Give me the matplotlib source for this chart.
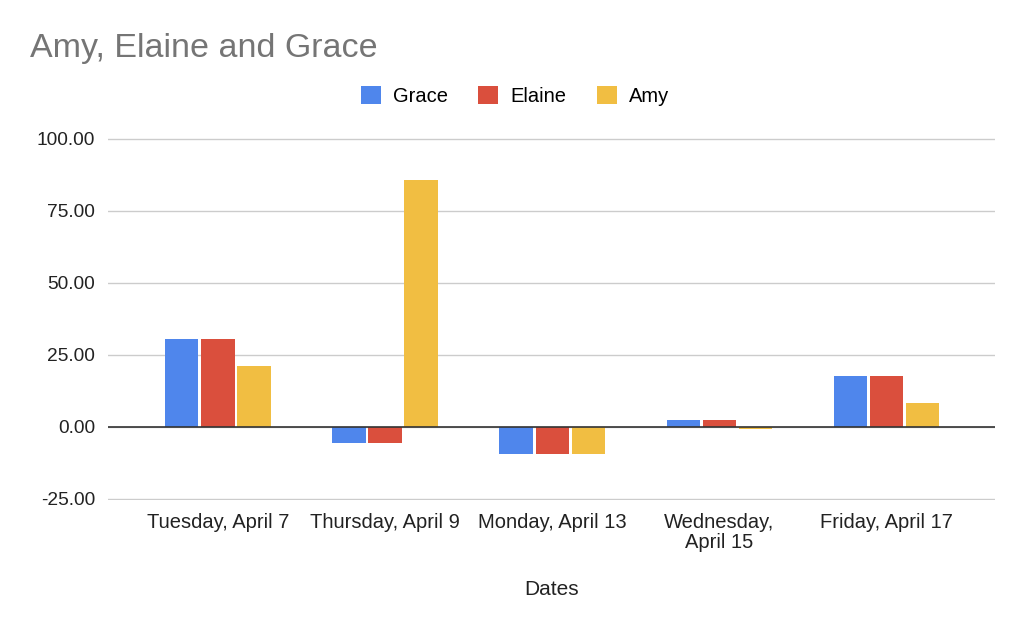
import numpy as np
import matplotlib.pyplot as plt

# ---------------- data ----------------
dates  = ["Tuesday, April 7", "Thursday, April 9", "Monday, April 13",
          "Wednesday,\nApril 15", "Friday, April 17"]
grace  = [30.5, -5.6, -9.3, 2.3, 17.8]
elaine = [30.5, -5.6, -9.3, 2.3, 17.8]
amy    = [21.2, 85.5, -9.3, -0.6, 8.2]

series  = ["Grace", "Elaine", "Amy"]
colores = ["#4F86EC", "#DA4F3D", "#F1BE42"]

plt.rcParams['font.family'] = ['Liberation Sans', 'DejaVu Sans']

# ---------------- figure ----------------
fig = plt.figure(figsize=(10.24, 6.31), dpi=100, facecolor="white")
ax = fig.add_axes([0.105, 0.2076, 0.867, 0.5736])

x = np.arange(len(dates))
ancho = 0.2
paso = 0.216
for k, (vals, nom, col) in enumerate(zip([grace, elaine, amy], series, colores)):
    ax.bar(x + (k - 1) * paso, vals, width=ancho, color=col, label=nom, zorder=2)

ax.set_xlim(-0.66, 4.65)
ax.set_ylim(-25.4, 100.2)
ax.set_yticks([-25, 0, 25, 50, 75, 100])
ax.set_yticklabels([f"{v:.2f}" for v in [-25, 0, 25, 50, 75, 100]])
ax.grid(True, axis="y", color="#CCCCCC", linewidth=1, zorder=0)
ax.axhline(0, color="#333333", linewidth=1.2, zorder=3)

for s in ax.spines.values():
    s.set_visible(False)

ax.set_xticks(x)
ax.set_xticklabels(dates, fontsize=14.5, color="#222222", va="top", linespacing=1.1)
ax.tick_params(axis="x", length=0, pad=9)
ax.tick_params(axis="y", length=0, pad=9, labelsize=13.8, labelcolor="#222222")

ax.set_xlabel("Dates", fontsize=15, color="#222222", labelpad=20)

fig.text(0.029, 0.923, "Amy, Elaine and Grace", fontsize=24.5, color="#757575",
         va="center", ha="left")

leg = fig.legend(loc="center", bbox_to_anchor=(0.503, 0.848), ncol=3, frameon=False,
                 fontsize=14.5, handlelength=1.0, handleheight=1.0,
                 handletextpad=0.6, columnspacing=1.5)

plt.savefig("out.png", dpi=100, facecolor="white")
